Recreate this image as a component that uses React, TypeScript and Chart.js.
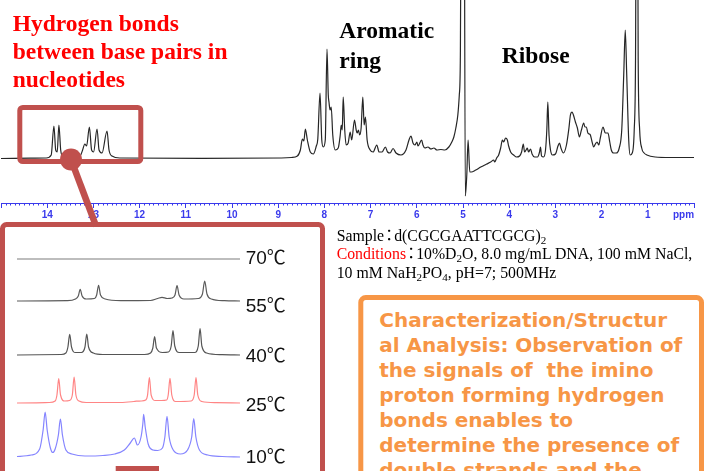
import React, { useEffect, useRef } from "react";
import { Chart, registerables } from "chart.js";

Chart.register(...registerables);

// ---------- Main 1H NMR spectrum (ppm vs relative intensity) ----------
const mainPpm = [
  15.0, 14.021, 13.913, 13.855, 13.816, 13.783, 13.747, 13.708, 13.654, 13.568,
  13.287, 13.233, 13.186, 13.147, 13.087, 13.039, 12.996, 12.921, 12.878, 12.813,
  12.705, 12.662, 12.597, 12.425, 10.656, 8.93, 8.714, 8.585, 8.52, 8.477,
  8.445, 8.412, 8.369, 8.305, 8.24, 8.175, 8.143, 8.095, 8.057, 8.024,
  7.981, 7.944, 7.916, 7.901, 7.877, 7.852, 7.819, 7.765, 7.701, 7.657,
  7.636, 7.614, 7.593, 7.56, 7.528, 7.485, 7.442, 7.409, 7.349, 7.312,
  7.291, 7.263, 7.237, 7.205, 7.168, 7.14, 7.112, 7.075, 7.01, 6.946,
  6.866, 6.816, 6.752, 6.68, 6.633, 6.579, 6.514, 6.45, 6.342, 6.234,
  6.169, 6.126, 6.083, 6.04, 5.997, 5.975, 5.895, 5.867, 5.824, 5.759,
  5.695, 5.63, 5.565, 5.479, 5.393, 5.306, 5.242, 5.198, 5.155, 5.112,
  5.08, 5.058, 5.026, 4.983, 4.95, 4.918, 4.89, 4.853, 4.821, 4.724,
  4.616, 4.487, 4.4, 4.336, 4.314, 4.271, 4.228, 4.185, 4.148, 4.12,
  4.077, 4.04, 4.012, 3.969, 3.904, 3.84, 3.775, 3.732, 3.695, 3.667,
  3.635, 3.609, 3.581, 3.538, 3.505, 3.451, 3.387, 3.343, 3.322, 3.3,
  3.257, 3.214, 3.186, 3.164, 3.138, 3.106, 3.063, 2.998, 2.944, 2.912,
  2.88, 2.826, 2.761, 2.707, 2.675, 2.638, 2.61, 2.567, 2.524, 2.481,
  2.437, 2.388, 2.362, 2.33, 2.297, 2.265, 2.243, 2.211, 2.172, 2.135,
  2.099, 2.06, 2.028, 1.969, 1.92, 1.862, 1.823, 1.79, 1.741, 1.683,
  1.618, 1.564, 1.521, 1.488, 1.456, 1.413, 1.381, 1.337, 1.294, 1.266,
  1.236, 1.208, 1.176, 1.132, 1.079, 1.02, 0.841, 0.518, 0.0,
];
const mainIntensity = [
  -0.5, 0, 3, 32, 8, 6, 33, 8, 1, 0,
  2, 8, 14, 12, 31, 8, 6, 29, 8, 5,
  27, 8, 2, 0, -0.3, 0, 0.5, 2, 8, 19,
  17, 29, 18, 6, 4, 12, 19, 65, 18, 11,
  18, 109, 63, 56, 48, 51, 23, 8, 10, 23,
  33, 28, 61, 28, 13, 15, 26, 18, 38, 28,
  25, 28, 23, 30, 61, 33, 41, 18, 8, 6,
  13, 6, 6, 11, 6, 5, 9.5, 5, 3, 8,
  18, 22, 15, 13, 16, 12, 18, 13, 10, 11,
  9, 10, 8, 8.5, 8, 11, 16, 21, 30, 43,
  63, 98, 458, 458, -38, -17, 18, -14, -14, -12,
  -9, -6, -4, -2, -4, 0, 3, 10, 18, 16,
  20, 18, 12, 6, 3, 1, 2, 6, 14, 6,
  8, 10, 6, 9, 4, 1, 1, 6, 11, 2,
  1, 8, 28, 56, 23, 8, 3, 4, 12, 15,
  10, 5, 13, 30, 43, 46, 43, 36, 30, 21,
  28, 35, 31, 31, 25, 24, 23, 17, 11, 14,
  16, 13, 20, 31, 25, 25, 16, 8, 5, 5,
  10, 28, 83, 128, 83, 18, 3, 5, 28, 98,
  458, 98, 28, 10, 5, 3, 1, 0.5, 0.5,
];
const tickLabels = ["1", "2", "3", "4", "5", "6", "7", "8", "9", "10", "11", "12", "13", "14"];

// ---------- Imino region vs temperature ----------
const temperatures = ["70℃", "55℃", "40℃", "25℃", "10℃"];
const ppm70 = [14.22, 13.5, 12.8, 12.35];
const int70 = [0, 0, 0, 0];
const ppm55 = [14.22, 13.8, 13.73, 13.706, 13.69, 13.674, 13.64, 13.57, 13.552, 13.536, 13.52, 13.48, 13.35, 13.1, 13.04, 13.004, 12.96, 12.92, 12.895, 12.878, 12.861, 12.82, 12.7, 12.665, 12.646, 12.627, 12.59, 12.48, 12.35];
const int55 = [0, 0.3, 2, 5, 11.7, 5, 2, 2.5, 6, 15.7, 6, 2, 0.3, 0.5, 2.5, 3.7, 2.5, 3, 6, 15.3, 6, 2, 2.5, 7, 20, 7, 2, 0.3, 0];
const ppm40 = [14.22, 13.85, 13.81, 13.793, 13.778, 13.763, 13.73, 13.68, 13.65, 13.635, 13.62, 13.58, 13.5, 13.15, 13.1, 13.081, 13.066, 13.051, 13.0, 12.95, 12.927, 12.912, 12.897, 12.86, 12.73, 12.7, 12.685, 12.67, 12.63, 12.5, 12.35];
const int40 = [0, 0.5, 2, 8, 20.7, 8, 2.5, 2.5, 8, 21, 8, 2, 0.5, 0.5, 2, 7, 18.3, 7, 2.5, 3, 9, 24.3, 9, 2.5, 2.5, 9, 26.3, 9, 2, 0.3, 0];
const ppm25 = [14.22, 13.95, 13.9, 13.885, 13.87, 13.855, 13.82, 13.78, 13.756, 13.741, 13.726, 13.7, 13.64, 13.35, 13.24, 13.22, 13.18, 13.14, 13.125, 13.11, 13.095, 13.06, 13.01, 12.965, 12.952, 12.937, 12.922, 12.89, 12.76, 12.734, 12.719, 12.704, 12.67, 12.55, 12.35];
const int25 = [0, 0.5, 2, 8, 24.3, 8, 2, 2.5, 8, 26, 8, 2, 0.5, 0.5, 1.5, 1.8, 2, 3, 8, 25.3, 8, 2.5, 2.5, 3, 8, 24.6, 8, 1.5, 2, 8, 25.3, 8, 1.5, 0.3, 0];
const ppm10 = [14.22, 14.1, 14.03, 14.001, 13.984, 13.967, 13.94, 13.92, 13.9, 13.873, 13.856, 13.839, 13.81, 13.76, 13.65, 13.5, 13.4, 13.32, 13.27, 13.236, 13.21, 13.18, 13.165, 13.158, 13.145, 13.12, 13.08, 13.04, 13.0, 12.98, 12.962, 12.944, 12.91, 12.85, 12.79, 12.755, 12.738, 12.72, 12.69, 12.62, 12.5, 12.35];
const int10 = [0.5, 2, 8, 27, 45, 27, 9, 4.5, 8, 22, 38, 22, 7, 3, 1, 1.5, 3, 7, 14, 19, 12, 20, 33, 42.6, 30, 13, 7, 6.5, 9, 20, 40.6, 20, 7, 3, 7, 20, 38.3, 20, 7, 2, 0.5, 0];

// ---------- layout / style ----------
const BLUE = "#3a3aec";
const RED_BOX = "#C0504D";
const ORANGE = "#F79646";
const insetBaselines = [259.3, 301, 355, 403.3, 457.3];
const insetLabelTops = [248.2, 295.6, 345.6, 394.6, 447.2];
const insetColors = ["#7c7c7c", "#5a5a5a", "#555555", "#ff8585", "#8585ff"];
const insetSeries = [
  [ppm70, int70],
  [ppm55, int55],
  [ppm40, int40],
  [ppm25, int25],
  [ppm10, int10],
];

function MainSpectrum() {
  const ref = useRef<HTMLCanvasElement>(null);
  useEffect(() => {
    const minorTicks = {
      id: "minorTicks",
      afterDraw(chart: any) {
        const sc = chart.scales.x;
        const ctx = chart.ctx;
        ctx.save();
        ctx.strokeStyle = BLUE;
        ctx.lineWidth = 1;
        for (let i = 0; i <= 150; i++) {
          if (i % 10 === 0) continue;
          const px = Math.round(sc.getPixelForValue(i / 10)) + 0.5;
          ctx.beginPath();
          ctx.moveTo(px, sc.top);
          ctx.lineTo(px, sc.top + 2.5);
          ctx.stroke();
        }
        ctx.restore();
      },
    };
    const chart = new Chart(ref.current as HTMLCanvasElement, {
      type: "line",
      data: {
        datasets: [
          {
            data: mainPpm.map((x, i) => ({ x, y: mainIntensity[i] })),
            borderColor: "#262626",
            borderWidth: 1.2,
            pointRadius: 0,
            fill: false,
            cubicInterpolationMode: "monotone",
          },
        ],
      },
      options: {
        responsive: false,
        animation: false,
        devicePixelRatio: 1,
        events: [],
        layout: { padding: { left: 0, right: 13, top: 0, bottom: 0 } },
        plugins: { legend: { display: false }, tooltip: { enabled: false } },
        scales: {
          x: {
            type: "linear",
            min: 0,
            max: 15,
            reverse: true,
            position: "bottom",
            afterFit: (s: any) => {
              s.height = 27;
            },
            border: { display: true, color: BLUE, width: 1 },
            grid: { drawOnChartArea: false, drawTicks: true, tickLength: 5, color: BLUE, lineWidth: 1 },
            ticks: {
              stepSize: 1,
              autoSkip: false,
              maxRotation: 0,
              color: BLUE,
              padding: 1,
              font: { family: "'Liberation Sans', Arial, sans-serif", size: 10, weight: "bold" },
              callback: (v: any) => (tickLabels.includes(String(v)) ? String(v) : ""),
            },
          },
          y: { display: false, min: -45, max: 158 },
        },
      } as any,
      plugins: [minorTicks],
    });
    return () => chart.destroy();
  }, []);
  return <canvas ref={ref} width={707} height={230} style={{ position: "absolute", left: 0, top: 0 }} />;
}

function InsetTrace({ idx }: { idx: number }) {
  const ref = useRef<HTMLCanvasElement>(null);
  useEffect(() => {
    const [px, iy] = insetSeries[idx];
    const chart = new Chart(ref.current as HTMLCanvasElement, {
      type: "line",
      data: {
        datasets: [
          {
            data: px.map((x, i) => ({ x, y: iy[i] })),
            borderColor: insetColors[idx],
            borderWidth: 1.2,
            pointRadius: 0,
            fill: false,
            cubicInterpolationMode: "monotone",
          },
        ],
      },
      options: {
        responsive: false,
        animation: false,
        devicePixelRatio: 1,
        events: [],
        layout: { padding: 0 },
        plugins: { legend: { display: false }, tooltip: { enabled: false } },
        scales: {
          x: { type: "linear", display: false, min: 12.35, max: 14.22, reverse: true },
          y: { display: false, min: -4, max: 48 },
        },
      } as any,
    });
    return () => chart.destroy();
  }, [idx]);
  return (
    <canvas
      ref={ref}
      width={223}
      height={52}
      style={{ position: "absolute", left: 17, top: insetBaselines[idx] - 48 }}
    />
  );
}

const abs = (o: any) => ({ position: "absolute", whiteSpace: "pre", margin: 0, ...o });
const subStyle = { fontSize: "0.7em", verticalAlign: "-0.3em", lineHeight: 0 } as any;
const colonStyle = { marginLeft: "-0.18em", letterSpacing: "-0.18em" } as any;
const Colon = () => <span style={colonStyle}>：</span>;

export default function App() {
  return (
    <div
      style={{
        position: "fixed",
        left: 0,
        top: 0,
        width: 707,
        height: 471,
        overflow: "hidden",
        background: "#fff",
      }}
    >
      <MainSpectrum />

      <div
        style={abs({
          left: 12.7,
          top: 8.6,
          font: "bold 23.5px 'Liberation Serif', 'Times New Roman', serif",
          lineHeight: "28.3px",
          color: "#ff0000",
        })}
      >
        {"Hydrogen bonds\nbetween base pairs in\nnucleotides"}
      </div>
      <div
        style={abs({
          left: 339.3,
          top: 15.4,
          font: "bold 23.5px 'Liberation Serif', 'Times New Roman', serif",
          lineHeight: "30px",
          color: "#000",
        })}
      >
        {"Aromatic\nring"}
      </div>
      <div
        style={abs({
          left: 501.7,
          top: 40.6,
          font: "bold 23.5px 'Liberation Serif', 'Times New Roman', serif",
          lineHeight: "28.3px",
          color: "#000",
        })}
      >
        {"Ribose"}
      </div>
      <div
        style={abs({
          left: 673,
          top: 208.5,
          font: "bold 10px 'Liberation Sans', Arial, sans-serif",
          lineHeight: "12px",
          color: BLUE,
        })}
      >
        ppm
      </div>

      <div
        style={abs({
          left: 336.7,
          top: 227.2,
          font: "15.8px 'Liberation Serif', 'Noto Sans CJK JP', serif",
          lineHeight: "18.3px",
          color: "#000",
        })}
      >
        <div>
          Sample<Colon />d(CGCGAATTCGCG)<sub style={subStyle}>2</sub>
        </div>
        <div>
          <span style={{ color: "#ff0000" }}>Conditions</span>
          <Colon />
          10%D<sub style={subStyle}>2</sub>O, 8.0 mg/mL DNA, 100 mM NaCl,
        </div>
        <div>
          10 mM NaH<sub style={subStyle}>2</sub>PO<sub style={subStyle}>4</sub>, pH=7; 500MHz
        </div>
      </div>

      <div
        style={abs({
          left: 379.3,
          top: 307.9,
          font: "bold 20px 'DejaVu Sans', Verdana, sans-serif",
          lineHeight: "25px",
          color: ORANGE,
        })}
      >
        {"Characterization/Structur\nal Analysis: Observation of\nthe signals of  the imino\nproton forming hydrogen\nbonds enables to\ndetermine the presence of\ndouble strands and the"}
      </div>

      {temperatures.map((_, i) => (
        <InsetTrace key={i} idx={i} />
      ))}
      {temperatures.map((t, i) => (
        <div
          key={"l" + i}
          style={abs({
            left: 245.7,
            top: insetLabelTops[i],
            font: "19px 'Liberation Sans', Arial, 'Noto Sans CJK JP', sans-serif",
            lineHeight: "19px",
            color: "#111",
          })}
        >
          {t}
        </div>
      ))}

      <svg
        width={707}
        height={471}
        style={{ position: "absolute", left: 0, top: 0, pointerEvents: "none" }}
      >
        <rect x={19.8} y={107.5} width={121} height={54} rx={3} fill="none" stroke={RED_BOX} strokeWidth={5} />
        <line x1={71} y1={159.5} x2={96} y2={226} stroke={RED_BOX} strokeWidth={6.5} />
        <circle cx={71} cy={159.5} r={11} fill={RED_BOX} />
        <rect x={2.5} y={224.5} width={320} height={300} rx={4} fill="none" stroke={RED_BOX} strokeWidth={5} />
        <rect x={115.7} y={466} width={43.3} height={10} fill={RED_BOX} />
        <rect x={360.8} y={297.5} width={340.7} height={250} rx={5} fill="none" stroke={ORANGE} strokeWidth={5} />
      </svg>
    </div>
  );
}
